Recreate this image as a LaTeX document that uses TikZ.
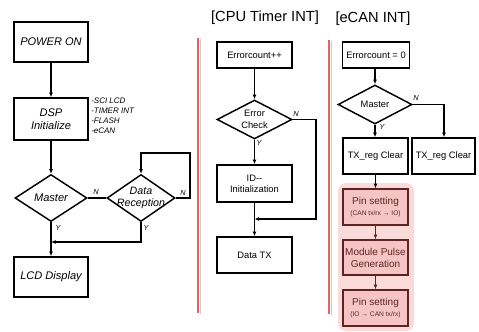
\documentclass[tikz,border=0pt]{standalone}
\usepackage{fontspec}
\setmainfont{Liberation Sans}
\usetikzlibrary{arrows.meta,shapes.geometric}
\definecolor{redline}{HTML}{E06464}
\definecolor{pinkbg}{HTML}{FBDADA}
\definecolor{pinkbox}{HTML}{F6C4C4}
\definecolor{maroon}{HTML}{5E2424}
\tikzset{
  box/.style={draw=black,line width=1.1pt,fill=white,inner sep=1pt,align=center,font=\fontsize{7}{8.5}\selectfont},
  ibox/.style={box,font=\fontsize{8.3}{10}\selectfont\itshape},
  dia/.style={diamond,draw=black,line width=1.1pt,fill=white,inner sep=0pt},
  pbox/.style={draw=maroon,line width=1pt,fill=pinkbox,inner sep=1pt,align=center,text=maroon,font=\fontsize{7.5}{9}\selectfont,minimum width=65*0.75pt},
  arr/.style={line width=0.9pt,-{Latex[length=3.5pt,width=3pt]}},
  ln/.style={line width=0.9pt},
  lab/.style={font=\fontsize{5.5}{6}\selectfont\itshape,inner sep=0pt},
  ttl/.style={font=\fontsize{11}{13}\selectfont,inner sep=0pt},
}
\begin{document}
\begin{tikzpicture}[x=0.75pt,y=-0.75pt]
\useasboundingbox (0,0) rectangle (479,332);
% left column
\node[ibox,minimum width=74*0.75pt,minimum height=40*0.75pt] (power) at (51,42) {POWER ON};
\node[ibox,minimum width=74*0.75pt,minimum height=42*0.75pt] (dsp) at (51,119) {DSP\\Initialize};
\node[anchor=north west,align=left,inner sep=0pt,font=\fontsize{6}{7.5}\selectfont\itshape] (side) at (91,98) {-SCI LCD\\-TIMER INT\\-FLASH\\-eCAN};
\node[dia,minimum width=72*0.75pt,minimum height=47*0.75pt,label={[font=\fontsize{8.3}{10}\selectfont\itshape]center:Master}] (master) at (51,198) {};
\node[dia,minimum width=68*0.75pt,minimum height=47*0.75pt,label={[font=\fontsize{8}{9.5}\selectfont\itshape,align=center]center:Data\\Reception}] (datarec) at (141,198) {};
\node[ibox,minimum width=74*0.75pt,minimum height=40*0.75pt] (lcd) at (51,277) {LCD Display};
\coordinate (loopR) at (190,198);
\coordinate (loopT) at (190,153);
\coordinate (loopL) at (141,153);
\coordinate (joinR) at (141,242);
\coordinate (joinL) at (51,242);
\draw[arr] (power) -- (dsp);
\draw[arr] (dsp) -- (master);
\draw[ln] (master.east) -- (datarec.west);
\draw[arr] (datarec.east) -- (loopR) -- (loopT) -- (loopL) -- (datarec.north);
\draw[arr] (master.south) -- (lcd.north);
\draw[arr] (datarec.south) -- (joinR) -- (joinL);
\node[lab] (n1) at (96,192) {N};
\node[lab] (n2) at (183,193) {N};
\node[lab] (y1) at (58,228) {Y};
\node[lab] (y2) at (146,228) {Y};
% separators
\draw[gray!40,line width=1pt] (200.5,39) -- (200.5,314);
\draw[redline,line width=1.6pt] (198,38) coordinate (r1a) -- (198,313) coordinate (r1b);
\draw[gray!40,line width=1pt] (331.5,41) -- (331.5,315);
\draw[redline,line width=1.6pt] (329,40) coordinate (r2a) -- (329,314) coordinate (r2b);
% middle column
\node[ttl] (t1) at (265,18) {[CPU Timer INT]};
\node[box,minimum width=75*0.75pt,minimum height=26*0.75pt] (err) at (254.5,55) {Errorcount++};
\node[dia,minimum width=75*0.75pt,minimum height=39*0.75pt,label={[font=\fontsize{7}{8.5}\selectfont,align=center]center:Error\\Check}] (errchk) at (254.5,119.5) {};
\node[box,minimum width=75*0.75pt,minimum height=37*0.75pt] (idinit) at (254.5,183.5) {ID-{}-\\Initialization};
\node[box,minimum width=75*0.75pt,minimum height=36*0.75pt] (datatx) at (254.5,255) {Data TX};
\coordinate (mR) at (316,119.5);
\coordinate (mB) at (316,219);
\coordinate (mJ) at (254.5,219);
\draw[arr] (err) -- (errchk);
\draw[arr] (errchk) -- (idinit);
\draw[arr] (idinit) -- (datatx);
\draw[arr] (errchk.east) -- (mR) -- (mB) -- (mJ);
\node[lab] (n3) at (296,114) {N};
\node[lab] (y3) at (259,143) {Y};
% right column
\node[ttl] (t2) at (373,19) {[eCAN INT]};
\node[box,minimum width=67*0.75pt,minimum height=26*0.75pt] (ec0) at (376,55) {Errorcount = 0};
\node[dia,minimum width=74*0.75pt,minimum height=39*0.75pt,label={[font=\fontsize{7}{8.5}\selectfont]center:Master}] (master2) at (375,104.5) {};
\node[box,minimum width=65*0.75pt,minimum height=36*0.75pt] (txc1) at (375.5,156) {TX\_reg Clear};
\node[box,minimum width=63*0.75pt,minimum height=36*0.75pt] (txc2) at (443.5,156) {TX\_reg Clear};
\fill[pinkbg,rounded corners=8*0.75pt] (338,183) rectangle (414,331);
\node[pbox,minimum height=36*0.75pt] (pin1) at (375.5,207) {Pin setting\\[-1pt]{\fontsize{5}{6}\selectfont(CAN tx/rx → IO)}};
\node[pbox,minimum height=35*0.75pt] (mod) at (375.5,257.5) {Module Pulse\\Generation};
\node[pbox,minimum height=36*0.75pt] (pin2) at (375.5,308) {Pin setting\\[-1pt]{\fontsize{5}{6}\selectfont(IO → CAN tx/rx)}};
\coordinate (rR) at (444,104.5);
\draw[arr] (ec0.south -| master2.north) -- (master2.north);
\draw[arr] (master2.south) -- (txc1.north -| master2.south);
\draw[arr] (master2.east) -- (rR) -- (txc2.north -| rR);
\draw[arr,draw=black] (txc1) -- (pin1);
\draw[arr,draw=maroon] (pin1) -- (mod);
\draw[arr,draw=maroon] (mod) -- (pin2);
\node[lab] (n4) at (416,98) {N};
\node[lab] (y4) at (382,127) {Y};
\end{tikzpicture}
\end{document}
